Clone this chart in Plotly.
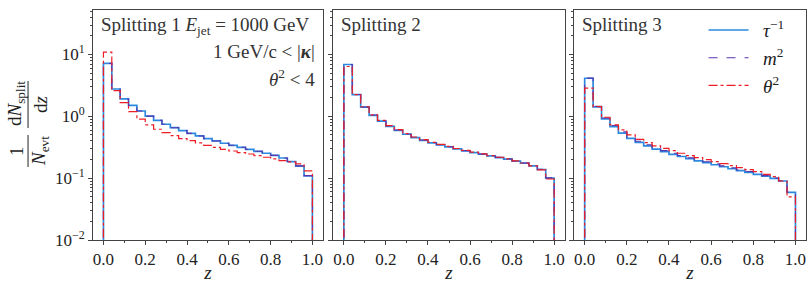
import plotly.graph_objects as go

# ---------------- data ----------------
bin_edges = [round(i * 0.04, 2) for i in range(26)]

p1_tau = [7.2, 2.77, 1.91, 1.51, 1.22, 1.01, 0.86, 0.745, 0.657, 0.588, 0.532, 0.482, 0.436,
          0.40, 0.367, 0.34, 0.316, 0.293, 0.272, 0.253, 0.234, 0.212, 0.185, 0.157, 0.109]
p1_m2 = [7.2, 2.75, 1.90, 1.50, 1.22, 1.01, 0.86, 0.745, 0.655, 0.588, 0.530, 0.482, 0.436,
         0.40, 0.367, 0.34, 0.316, 0.293, 0.272, 0.253, 0.234, 0.212, 0.186, 0.158, 0.110]
p1_theta = [10.9, 2.6, 1.67, 1.19, 0.90, 0.726, 0.618, 0.546, 0.488, 0.436, 0.405, 0.371, 0.34,
            0.316, 0.293, 0.275, 0.259, 0.246, 0.232, 0.218, 0.205, 0.192, 0.183, 0.17, 0.131]

p2_tau = [6.9, 2.24, 1.41, 1.04, 0.84, 0.69, 0.595, 0.513, 0.453, 0.41, 0.371, 0.345, 0.32,
          0.297, 0.276, 0.259, 0.244, 0.229, 0.215, 0.203, 0.188, 0.175, 0.158, 0.138, 0.100]
p2_m2 = [6.9, 2.25, 1.42, 1.05, 0.85, 0.70, 0.60, 0.518, 0.458, 0.414, 0.375, 0.349, 0.323,
         0.300, 0.279, 0.261, 0.246, 0.231, 0.217, 0.205, 0.190, 0.176, 0.159, 0.139, 0.101]
p2_theta = [6.4, 2.25, 1.43, 1.06, 0.86, 0.71, 0.61, 0.525, 0.463, 0.42, 0.379, 0.352, 0.326,
            0.302, 0.281, 0.263, 0.247, 0.232, 0.218, 0.205, 0.190, 0.176, 0.158, 0.136, 0.097]

p3_tau = [4.13, 1.42, 0.91, 0.68, 0.535, 0.44, 0.38, 0.334, 0.296, 0.268, 0.243, 0.224, 0.206,
          0.191, 0.178, 0.165, 0.153, 0.142, 0.132, 0.124, 0.115, 0.108, 0.099, 0.090, 0.059]
p3_m2 = [4.15, 1.45, 0.94, 0.71, 0.56, 0.46, 0.395, 0.348, 0.308, 0.279, 0.253, 0.233, 0.213,
         0.198, 0.184, 0.170, 0.158, 0.147, 0.136, 0.128, 0.118, 0.110, 0.100, 0.091, 0.060]
p3_theta = [2.85, 1.44, 0.966, 0.726, 0.602, 0.50, 0.425, 0.376, 0.332, 0.304, 0.279, 0.253, 0.232,
            0.215, 0.20, 0.185, 0.172, 0.16, 0.148, 0.137, 0.128, 0.115, 0.106, 0.090, 0.050]

panels = [(p1_tau, p1_m2, p1_theta), (p2_tau, p2_m2, p2_theta), (p3_tau, p3_m2, p3_theta)]
series_names = ["<i>τ</i><sup>−1</sup>", "<i>m</i><sup>2</sup>", "<i>θ</i><sup>2</sup>"]
panel_titles = ["Splitting 1", "Splitting 2", "Splitting 3"]
x_ticks = [0.0, 0.2, 0.4, 0.6, 0.8, 1.0]
y_ticks = [0.01, 0.1, 1, 10]
y_ticktext = ["10<sup>−2</sup>", "10<sup>−1</sup>", "10<sup>0</sup>", "10<sup>1</sup>"]

# ---------------- style ----------------
FONT = "Liberation Serif"
colors = ["#2b8ae0", "#5a35b0", "#ee1c25"]
dashes = ["solid", "dash", "dashdot"]
widths = [1.7, 1.1, 1.2]
FLOOR = 1e-4  # drop to the axis floor like matplotlib's step histogram

W_PLOT = 713.5
L_MARG = 93


def px_to_paper_x(px):
    return (px - L_MARG) / W_PLOT


def px_to_paper_y(py):
    return (240 - py) / 230


def step_xy(vals):
    xs = [bin_edges[0]] + bin_edges + [bin_edges[-1]]
    ys = [FLOOR] + list(vals) + [vals[-1], FLOOR]
    return xs, ys


fig = go.Figure()

domains = [(0.0, 0.3224), (0.3371, 0.6615), (0.6748, 1.0)]

for pi, vals in enumerate(panels):
    xa = "x" if pi == 0 else f"x{pi + 1}"
    ya = "y" if pi == 0 else f"y{pi + 1}"
    for si in range(3):
        xs, ys = step_xy(vals[si])
        fig.add_trace(go.Scatter(
            x=xs, y=ys, mode="lines", line_shape="hv",
            line=dict(color=colors[si], dash=dashes[si], width=widths[si]),
            name="&nbsp;&nbsp;" + series_names[si], showlegend=(pi == 2),
            xaxis=xa, yaxis=ya, hoverinfo="skip"))

minor_y = [m * 10 ** e for e in (-2, -1, 0, 1) for m in range(2, 10)]
minor_y = [v for v in minor_y if v < 52]

axis_common = dict(showline=True, linecolor="#444", linewidth=1, mirror=True,
                   showgrid=False, zeroline=False, ticks="outside", tickcolor="#444",
                   ticklen=4, automargin=False,
                   tickfont=dict(family=FONT, size=17, color="#222"))

layout = dict(
    width=810, height=283,
    margin=dict(l=L_MARG, r=3.5, t=10, b=43, autoexpand=False),
    plot_bgcolor="white", paper_bgcolor="white",
    font=dict(family=FONT, size=17, color="#222"),
    legend=dict(x=px_to_paper_x(704), y=0.995, xanchor="left", yanchor="top",
                bgcolor="rgba(255,255,255,0)", font=dict(family=FONT, size=19),
                tracegroupgap=0, itemwidth=40),
)

for pi in range(3):
    xk = "xaxis" if pi == 0 else f"xaxis{pi + 1}"
    yk = "yaxis" if pi == 0 else f"yaxis{pi + 1}"
    ya = "y" if pi == 0 else f"y{pi + 1}"
    xa = "x" if pi == 0 else f"x{pi + 1}"
    layout[xk] = dict(axis_common, domain=list(domains[pi]), range=[-0.05, 1.05],
                      tickvals=x_ticks, ticktext=[f"{t:.1f}" for t in x_ticks],
                      minor=dict(tickvals=[0.1, 0.3, 0.5, 0.7, 0.9], ticks="outside",
                                 ticklen=2, tickcolor="#444"),
                      title=dict(text="<i>z</i>", font=dict(family=FONT, size=19), standoff=0),
                      anchor=ya)
    layout[yk] = dict(axis_common, type="log", range=[-2, 1.72], domain=[0, 1],
                      tickvals=y_ticks, ticktext=y_ticktext, showticklabels=(pi == 0),
                      minor=dict(tickvals=minor_y, ticks="outside", ticklen=2, tickcolor="#444"),
                      anchor=xa)

fig.update_layout(**layout)

# panel texts
txt_font = dict(family=FONT, size=19, color="#333")
ann = []
for pi in range(3):
    xa = "x" if pi == 0 else f"x{pi + 1}"
    ya = "y" if pi == 0 else f"y{pi + 1}"
    txt = panel_titles[pi]
    if pi == 0:
        txt += " <i>E</i><sub>jet</sub> = 1000 GeV"
    ann.append(dict(xref=f"{xa} domain", yref=f"{ya} domain", x=0.025, y=0.99,
                    xanchor="left", yanchor="top", text=txt, showarrow=False, font=txt_font))
ann.append(dict(xref="x domain", yref="y domain", x=0.975, y=0.875, xanchor="right", yanchor="top",
                text="1 GeV/c < |<b><i>κ</i></b>|", showarrow=False, font=txt_font))
ann.append(dict(xref="x domain", yref="y domain", x=0.975, y=0.765, xanchor="right", yanchor="top",
                text="<i>θ</i><sup>2</sup> < 4", showarrow=False, font=txt_font))

# y-axis label as a rotated fraction pair
lab_font = dict(family=FONT, size=19, color="#222")
ann += [
    dict(xref="paper", yref="paper", x=px_to_paper_x(16), y=px_to_paper_y(151), text="1",
         textangle=-90, showarrow=False, font=lab_font, xanchor="center", yanchor="middle"),
    dict(xref="paper", yref="paper", x=px_to_paper_x(40), y=px_to_paper_y(151),
         text="<i>N</i><sub>evt</sub>", textangle=-90, showarrow=False, font=lab_font,
         xanchor="center", yanchor="middle"),
    dict(xref="paper", yref="paper", x=px_to_paper_x(16), y=px_to_paper_y(104),
         text="d<i>N</i><sub>split</sub>", textangle=-90, showarrow=False, font=lab_font,
         xanchor="center", yanchor="middle"),
    dict(xref="paper", yref="paper", x=px_to_paper_x(40), y=px_to_paper_y(104),
         text="d<i>z</i>", textangle=-90, showarrow=False, font=lab_font,
         xanchor="center", yanchor="middle"),
]
fig.update_layout(annotations=ann)

bar_x = px_to_paper_x(28)
fig.add_shape(type="line", xref="paper", yref="paper", x0=bar_x, x1=bar_x,
              y0=px_to_paper_y(167), y1=px_to_paper_y(135), line=dict(color="#222", width=1))
fig.add_shape(type="line", xref="paper", yref="paper", x0=bar_x, x1=bar_x,
              y0=px_to_paper_y(128), y1=px_to_paper_y(81), line=dict(color="#222", width=1))

fig.write_html("out.html", config={"displayModeBar": False},
               post_script="document.body.style.margin='0';document.body.style.overflow='hidden';")
